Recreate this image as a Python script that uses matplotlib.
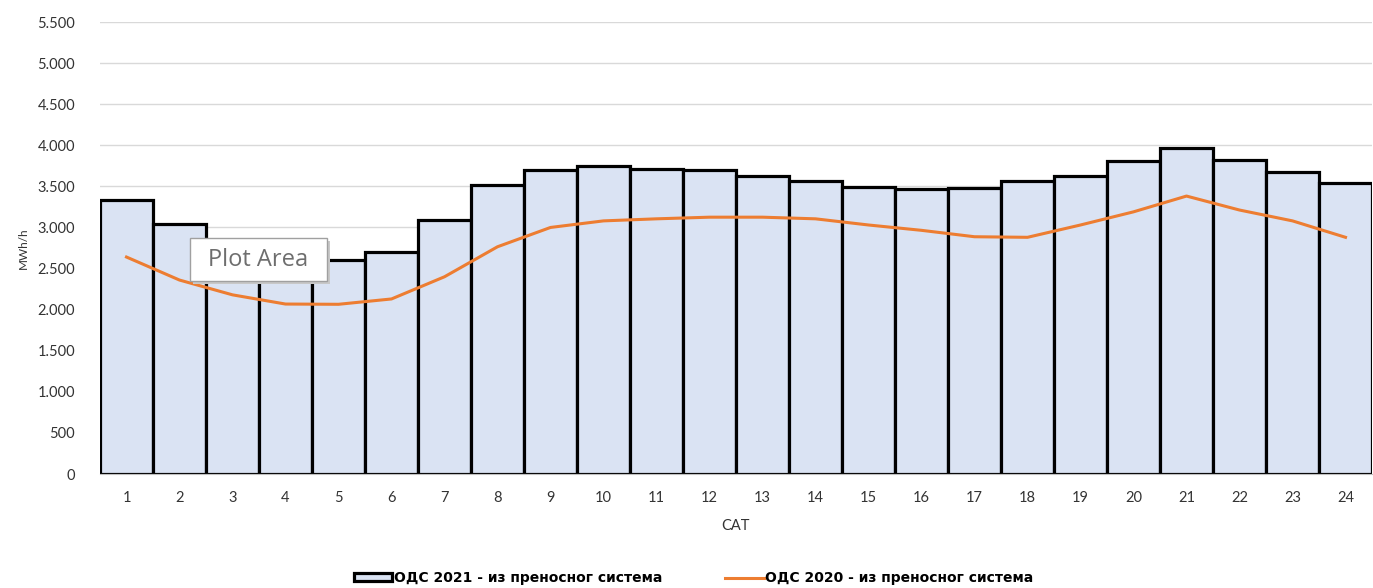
import numpy as np
import matplotlib.pyplot as plt
from matplotlib.patches import FancyBboxPatch
from matplotlib.lines import Line2D
from matplotlib.patches import Rectangle

# Data: hours and consumption (MWh/h)
hours = list(range(1, 25))
ods_2021 = [3330, 3040, 2820, 2660, 2600, 2700, 3090, 3515, 3700, 3745,
            3715, 3700, 3630, 3560, 3495, 3465, 3485, 3560, 3630, 3805,
            3965, 3825, 3670, 3540]
ods_2020 = [2640, 2360, 2180, 2068, 2065, 2130, 2400, 2765, 3000, 3080,
            3105, 3125, 3125, 3105, 3030, 2965, 2887, 2880, 3030, 3190,
            3382, 3212, 3080, 2880]
yticks = list(range(0, 5501, 500))
ytick_labels = ["{:,}".format(v).replace(",", ".") for v in yticks]

label_2021 = "ОДС 2021 - из преносног система"
label_2020 = "ОДС 2020 - из преносног система"

fig = plt.figure(figsize=(13.73, 5.88), dpi=100)
ax = fig.add_axes([100 / 1373, 1 - 474 / 588, 1272 / 1373, (474 - 22) / 588])

x = np.arange(len(hours))
ax.bar(x, ods_2021, width=1.0, color="#DAE3F3", edgecolor="black",
       linewidth=2.3, zorder=2)
ax.plot(x, ods_2020, color="#ED7D31", linewidth=2.2, zorder=3)

ax.set_xlim(-0.5, len(hours) - 0.5)
ax.set_ylim(0, 5500)
ax.set_yticks(yticks)
ax.set_yticklabels(ytick_labels)
ax.set_xticks(x)
ax.set_xticklabels([str(h) for h in hours])
ax.yaxis.grid(True, color="#D9D9D9", linewidth=1.0, zorder=0)
ax.set_axisbelow(True)
for s in ["top", "right", "left"]:
    ax.spines[s].set_visible(False)
ax.spines["bottom"].set_color("#BFBFBF")
ax.tick_params(axis="both", length=0, labelsize=10.5, colors="#333333")
ax.tick_params(axis="y", pad=18)
ax.tick_params(axis="x", pad=12)
for t in ax.get_xticklabels() + ax.get_yticklabels():
    t.set_fontfamily(["Lato", "DejaVu Sans"])

ax.set_xlabel("САТ", fontsize=10.5, color="#333333", labelpad=10,
              family=["Lato", "DejaVu Sans"])
ax.set_ylabel("MWh/h", fontsize=8.5, color="#333333", labelpad=6,
              family=["Lato", "DejaVu Sans"])

# "Plot Area" tooltip from the original screenshot
tip_x0, tip_y0, tip_w, tip_h = 190, 588 - 281, 137, 43
shadow = FancyBboxPatch((tip_x0 + 3, tip_y0 - 3), tip_w, tip_h,
                        boxstyle="square,pad=0", transform=None,
                        facecolor="#C8C8C8", edgecolor="none", zorder=9)
box = FancyBboxPatch((tip_x0, tip_y0), tip_w, tip_h,
                     boxstyle="square,pad=0", transform=None,
                     facecolor="white", edgecolor="#A0A0A0", linewidth=1.0,
                     zorder=10)
fig.patches.extend([shadow, box])
fig.text((tip_x0 + tip_w / 2) / 1373, (tip_y0 + tip_h / 2) / 588, "Plot Area",
         ha="center", va="center", fontsize=17, color="#6E6E6E",
         family=["Open Sans", "DejaVu Sans"], zorder=11)

# Legend
h_bar = Rectangle((0, 0), 1, 1, facecolor="#DAE3F3", edgecolor="black",
                  linewidth=2.3)
h_line = Line2D([0], [0], color="#ED7D31", linewidth=2.2)
fig.legend([h_bar, h_line], [label_2021, label_2020], loc="center",
           bbox_to_anchor=(0.505, 1 - 578 / 588), ncol=2, frameon=False,
           handlelength=2.8, handleheight=0.5, handletextpad=0.1,
           columnspacing=4.5,
           prop={"family": ["Liberation Sans Narrow", "DejaVu Sans"],
                 "weight": "bold", "size": 10})

fig.savefig("out.png", dpi=100)
